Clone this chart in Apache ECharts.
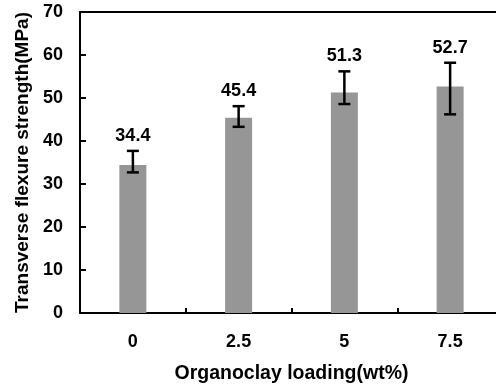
<!DOCTYPE html>
<html><head><meta charset="utf-8">
<script src="https://cdn.jsdelivr.net/npm/echarts@6/dist/echarts.min.js"></script>
<style>html,body{margin:0;padding:0;background:#fff;overflow:hidden}#c{width:496px;height:387px}</style>
</head><body><div id="c"></div>
<script>
const categories = ['0', '2.5', '5', '7.5'];
const strength = [34.4, 45.4, 51.3, 52.7];
const errLow = [32.7, 43.3, 48.6, 46.2];
const errHigh = [37.7, 48.1, 56.2, 58.2];
const yTicks = [0, 10, 20, 30, 40, 50, 60, 70];

const FONT = 'Arial';
const chart = echarts.init(document.getElementById('c'));
const errData = categories.map((c, i) => [i, errLow[i], errHigh[i], strength[i]]);

chart.setOption({
  animation: false,
  grid: { left: 80, top: 12, width: 423, height: 301, outerBoundsMode: 'none', containLabel: false },
  xAxis: [{
    type: 'category', data: categories, position: 'bottom',
    axisLine: { lineStyle: { color: '#000', width: 2 } },
    axisTick: { show: true, inside: true, length: 5, alignWithLabel: false, lineStyle: { color: '#000', width: 2 } },
    axisLabel: { color: '#000', fontSize: 18, fontWeight: 'bold', fontFamily: FONT, margin: 20 },
    name: 'Organoclay loading(wt%)', nameLocation: 'middle', nameGap: 51,
    nameTextStyle: { color: '#000', fontSize: 19.5, fontWeight: 'bold', fontFamily: FONT }
  }, {
    type: 'category', data: categories, position: 'top',
    axisLine: { show: true, lineStyle: { color: '#000', width: 2 } },
    axisTick: { show: false }, axisLabel: { show: false }, splitLine: { show: false }
  }],
  yAxis: {
    type: 'value', min: 0, max: 70, interval: 10,
    axisLine: { show: true, lineStyle: { color: '#000', width: 2 } },
    axisTick: { show: true, inside: true, length: 6, lineStyle: { color: '#000', width: 2 } },
    splitLine: { show: false },
    axisLabel: { color: '#000', fontSize: 18, fontWeight: 'bold', fontFamily: FONT, margin: 17,
      formatter: v => yTicks.includes(v) ? String(v) : '' },
    name: 'Transverse flexure strength(MPa)', nameLocation: 'middle', nameGap: 48, nameRotate: 90,
    nameTextStyle: { color: '#000', fontSize: 19, fontWeight: 'bold', fontFamily: FONT }
  },
  series: [{
    type: 'bar', data: strength, barWidth: 27, itemStyle: { color: '#969696' }, z: 2
  }, {
    type: 'custom', data: errData, z: 5,
    renderItem: function (params, api) {
      const x = api.value(0);
      const lo = api.coord([x, api.value(1)]);
      const hi = api.coord([x, api.value(2)]);
      const hw = 6;
      const st = { stroke: '#000', lineWidth: 2.5 };
      return { type: 'group', children: [
        { type: 'line', shape: { x1: lo[0], y1: lo[1], x2: hi[0], y2: hi[1] }, style: st },
        { type: 'line', shape: { x1: lo[0] - hw, y1: lo[1], x2: lo[0] + hw, y2: lo[1] }, style: st },
        { type: 'line', shape: { x1: hi[0] - hw, y1: hi[1], x2: hi[0] + hw, y2: hi[1] }, style: st },
        { type: 'text', x: hi[0], y: hi[1] - 15, style: { text: String(api.value(3)), fill: '#000',
          fontFamily: FONT, fontWeight: 'bold', fontSize: 18, align: 'center', verticalAlign: 'middle' } }
      ] };
    }
  }]
});
</script></body></html>
